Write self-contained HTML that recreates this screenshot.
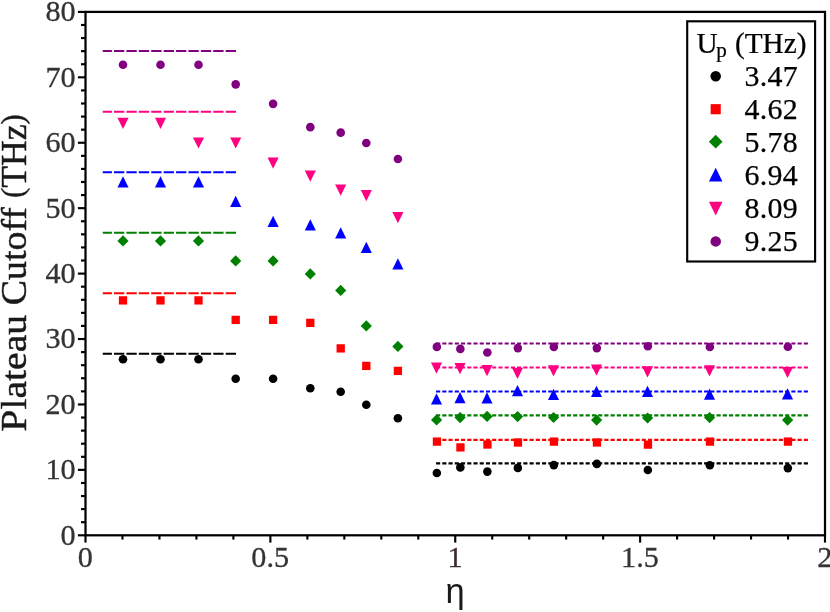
<!DOCTYPE html>
<html><head><meta charset="utf-8"><title>Plateau Cutoff</title>
<style>
html,body{margin:0;padding:0;background:#fff;}
body{width:830px;height:612px;overflow:hidden;font-family:"Liberation Serif",serif;}
svg{display:block;will-change:transform;}
text{font-family:"Liberation Serif",serif;}
.tl{font-size:30.2px;fill:#333333;stroke:#333333;stroke-width:0.3px;}
.lg{font-size:29.9px;fill:#000;stroke:#000;stroke-width:0.25px;}
</style></head><body>
<svg width="830" height="612" viewBox="0 0 830 612">
<rect x="0" y="0" width="830" height="612" fill="#ffffff"/>

<line x1="102.75" x2="236.5" y1="353.80" y2="353.80" stroke="#000000" stroke-width="2" stroke-dasharray="10.3 2.11" stroke-dashoffset="1.15"/>
<line x1="436.06" x2="807.95" y1="463.30" y2="463.30" stroke="#000000" stroke-width="2.15" stroke-dasharray="4.13 2.103"/>
<line x1="102.75" x2="236.5" y1="51.10" y2="51.10" stroke="#800080" stroke-width="2" stroke-dasharray="10.3 2.11" stroke-dashoffset="1.15"/>
<line x1="436.06" x2="807.95" y1="343.50" y2="343.50" stroke="#800080" stroke-width="2.15" stroke-dasharray="4.13 2.103"/>
<line x1="102.75" x2="236.5" y1="293.30" y2="293.30" stroke="#ff0000" stroke-width="2" stroke-dasharray="10.3 2.11" stroke-dashoffset="1.15"/>
<line x1="436.06" x2="807.95" y1="439.80" y2="439.80" stroke="#ff0000" stroke-width="2.15" stroke-dasharray="4.13 2.103"/>
<line x1="102.75" x2="236.5" y1="232.80" y2="232.80" stroke="#008000" stroke-width="2" stroke-dasharray="10.3 2.11" stroke-dashoffset="1.15"/>
<line x1="436.06" x2="807.95" y1="415.30" y2="415.30" stroke="#008000" stroke-width="2.15" stroke-dasharray="4.13 2.103"/>
<line x1="102.75" x2="236.5" y1="172.30" y2="172.30" stroke="#0000ff" stroke-width="2" stroke-dasharray="10.3 2.11" stroke-dashoffset="1.15"/>
<line x1="436.06" x2="807.95" y1="391.50" y2="391.50" stroke="#0000ff" stroke-width="2.15" stroke-dasharray="4.13 2.103"/>
<line x1="102.75" x2="236.5" y1="111.80" y2="111.80" stroke="#ff0080" stroke-width="2" stroke-dasharray="10.3 2.11" stroke-dashoffset="1.15"/>
<line x1="436.06" x2="807.95" y1="367.50" y2="367.50" stroke="#ff0080" stroke-width="2.15" stroke-dasharray="4.13 2.103"/>
<circle cx="123.00" cy="359.30" r="4.30" fill="#000000"/>
<circle cx="160.50" cy="359.30" r="4.30" fill="#000000"/>
<circle cx="198.50" cy="359.30" r="4.30" fill="#000000"/>
<circle cx="235.70" cy="378.80" r="4.30" fill="#000000"/>
<circle cx="273.10" cy="378.80" r="4.30" fill="#000000"/>
<circle cx="310.30" cy="388.30" r="4.30" fill="#000000"/>
<circle cx="340.70" cy="391.80" r="4.30" fill="#000000"/>
<circle cx="366.30" cy="404.80" r="4.30" fill="#000000"/>
<circle cx="397.90" cy="418.30" r="4.30" fill="#000000"/>
<circle cx="436.85" cy="473.00" r="4.30" fill="#000000"/>
<circle cx="460.35" cy="467.40" r="4.30" fill="#000000"/>
<circle cx="487.35" cy="471.60" r="4.30" fill="#000000"/>
<circle cx="517.85" cy="467.90" r="4.30" fill="#000000"/>
<circle cx="553.85" cy="465.10" r="4.30" fill="#000000"/>
<circle cx="596.85" cy="463.90" r="4.30" fill="#000000"/>
<circle cx="647.85" cy="470.00" r="4.30" fill="#000000"/>
<circle cx="709.85" cy="465.25" r="4.30" fill="#000000"/>
<circle cx="787.85" cy="468.10" r="4.30" fill="#000000"/>
<rect x="118.85" y="296.25" width="8.30" height="8.30" fill="#ff0000"/>
<rect x="156.35" y="296.25" width="8.30" height="8.30" fill="#ff0000"/>
<rect x="194.35" y="296.25" width="8.30" height="8.30" fill="#ff0000"/>
<rect x="231.55" y="315.75" width="8.30" height="8.30" fill="#ff0000"/>
<rect x="268.95" y="315.75" width="8.30" height="8.30" fill="#ff0000"/>
<rect x="306.15" y="318.75" width="8.30" height="8.30" fill="#ff0000"/>
<rect x="336.55" y="344.25" width="8.30" height="8.30" fill="#ff0000"/>
<rect x="362.15" y="361.75" width="8.30" height="8.30" fill="#ff0000"/>
<rect x="393.75" y="366.75" width="8.30" height="8.30" fill="#ff0000"/>
<rect x="432.80" y="437.45" width="8.30" height="8.30" fill="#ff0000"/>
<rect x="456.30" y="443.25" width="8.30" height="8.30" fill="#ff0000"/>
<rect x="483.30" y="440.35" width="8.30" height="8.30" fill="#ff0000"/>
<rect x="513.80" y="438.35" width="8.30" height="8.30" fill="#ff0000"/>
<rect x="549.80" y="437.45" width="8.30" height="8.30" fill="#ff0000"/>
<rect x="592.80" y="438.30" width="8.30" height="8.30" fill="#ff0000"/>
<rect x="643.80" y="440.45" width="8.30" height="8.30" fill="#ff0000"/>
<rect x="705.80" y="437.45" width="8.30" height="8.30" fill="#ff0000"/>
<rect x="783.80" y="437.45" width="8.30" height="8.30" fill="#ff0000"/>
<polygon points="117.40,240.90 123.00,235.30 128.60,240.90 123.00,246.50" fill="#008000"/>
<polygon points="154.90,240.90 160.50,235.30 166.10,240.90 160.50,246.50" fill="#008000"/>
<polygon points="192.90,240.90 198.50,235.30 204.10,240.90 198.50,246.50" fill="#008000"/>
<polygon points="230.10,260.90 235.70,255.30 241.30,260.90 235.70,266.50" fill="#008000"/>
<polygon points="267.50,260.90 273.10,255.30 278.70,260.90 273.10,266.50" fill="#008000"/>
<polygon points="304.70,273.90 310.30,268.30 315.90,273.90 310.30,279.50" fill="#008000"/>
<polygon points="335.10,290.40 340.70,284.80 346.30,290.40 340.70,296.00" fill="#008000"/>
<polygon points="360.70,325.90 366.30,320.30 371.90,325.90 366.30,331.50" fill="#008000"/>
<polygon points="392.30,346.40 397.90,340.80 403.50,346.40 397.90,352.00" fill="#008000"/>
<polygon points="431.00,419.90 436.60,414.30 442.20,419.90 436.60,425.50" fill="#008000"/>
<polygon points="454.50,417.60 460.10,412.00 465.70,417.60 460.10,423.20" fill="#008000"/>
<polygon points="481.50,416.40 487.10,410.80 492.70,416.40 487.10,422.00" fill="#008000"/>
<polygon points="512.00,416.60 517.60,411.00 523.20,416.60 517.60,422.20" fill="#008000"/>
<polygon points="548.00,417.50 553.60,411.90 559.20,417.50 553.60,423.10" fill="#008000"/>
<polygon points="591.00,420.10 596.60,414.50 602.20,420.10 596.60,425.70" fill="#008000"/>
<polygon points="642.00,418.00 647.60,412.40 653.20,418.00 647.60,423.60" fill="#008000"/>
<polygon points="704.00,417.60 709.60,412.00 715.20,417.60 709.60,423.20" fill="#008000"/>
<polygon points="782.00,420.10 787.60,414.50 793.20,420.10 787.60,425.70" fill="#008000"/>
<polygon points="117.45,187.50 128.55,187.50 123.00,176.30" fill="#0000ff"/>
<polygon points="154.95,187.50 166.05,187.50 160.50,176.30" fill="#0000ff"/>
<polygon points="192.95,187.50 204.05,187.50 198.50,176.30" fill="#0000ff"/>
<polygon points="230.15,207.00 241.25,207.00 235.70,195.80" fill="#0000ff"/>
<polygon points="267.55,227.00 278.65,227.00 273.10,215.80" fill="#0000ff"/>
<polygon points="304.75,230.50 315.85,230.50 310.30,219.30" fill="#0000ff"/>
<polygon points="335.15,238.50 346.25,238.50 340.70,227.30" fill="#0000ff"/>
<polygon points="360.75,253.00 371.85,253.00 366.30,241.80" fill="#0000ff"/>
<polygon points="392.35,269.50 403.45,269.50 397.90,258.30" fill="#0000ff"/>
<polygon points="430.95,404.40 442.05,404.40 436.50,393.20" fill="#0000ff"/>
<polygon points="454.45,403.20 465.55,403.20 460.00,392.00" fill="#0000ff"/>
<polygon points="481.45,403.50 492.55,403.50 487.00,392.30" fill="#0000ff"/>
<polygon points="511.95,396.30 523.05,396.30 517.50,385.10" fill="#0000ff"/>
<polygon points="547.95,400.00 559.05,400.00 553.50,388.80" fill="#0000ff"/>
<polygon points="590.95,397.00 602.05,397.00 596.50,385.80" fill="#0000ff"/>
<polygon points="641.95,397.00 653.05,397.00 647.50,385.80" fill="#0000ff"/>
<polygon points="703.95,399.70 715.05,399.70 709.50,388.50" fill="#0000ff"/>
<polygon points="781.95,399.50 793.05,399.50 787.50,388.30" fill="#0000ff"/>
<polygon points="117.45,117.70 128.55,117.70 123.00,128.90" fill="#ff0080"/>
<polygon points="154.95,117.70 166.05,117.70 160.50,128.90" fill="#ff0080"/>
<polygon points="192.95,137.40 204.05,137.40 198.50,148.60" fill="#ff0080"/>
<polygon points="230.15,137.40 241.25,137.40 235.70,148.60" fill="#ff0080"/>
<polygon points="267.55,157.50 278.65,157.50 273.10,168.70" fill="#ff0080"/>
<polygon points="304.75,170.50 315.85,170.50 310.30,181.70" fill="#ff0080"/>
<polygon points="335.15,184.50 346.25,184.50 340.70,195.70" fill="#ff0080"/>
<polygon points="360.75,190.00 371.85,190.00 366.30,201.20" fill="#ff0080"/>
<polygon points="392.35,212.00 403.45,212.00 397.90,223.20" fill="#ff0080"/>
<polygon points="430.95,362.60 442.05,362.60 436.50,373.80" fill="#ff0080"/>
<polygon points="454.45,363.10 465.55,363.10 460.00,374.30" fill="#ff0080"/>
<polygon points="481.45,365.10 492.55,365.10 487.00,376.30" fill="#ff0080"/>
<polygon points="511.95,367.80 523.05,367.80 517.50,379.00" fill="#ff0080"/>
<polygon points="547.95,365.30 559.05,365.30 553.50,376.50" fill="#ff0080"/>
<polygon points="590.95,364.50 602.05,364.50 596.50,375.70" fill="#ff0080"/>
<polygon points="641.95,366.20 653.05,366.20 647.50,377.40" fill="#ff0080"/>
<polygon points="703.95,365.30 715.05,365.30 709.50,376.50" fill="#ff0080"/>
<polygon points="781.95,366.90 793.05,366.90 787.50,378.10" fill="#ff0080"/>
<circle cx="123.00" cy="64.75" r="4.30" fill="#800080"/>
<circle cx="160.50" cy="64.75" r="4.30" fill="#800080"/>
<circle cx="198.50" cy="64.75" r="4.30" fill="#800080"/>
<circle cx="235.70" cy="84.35" r="4.30" fill="#800080"/>
<circle cx="273.10" cy="103.85" r="4.30" fill="#800080"/>
<circle cx="310.30" cy="127.15" r="4.30" fill="#800080"/>
<circle cx="340.70" cy="132.65" r="4.30" fill="#800080"/>
<circle cx="366.30" cy="142.95" r="4.30" fill="#800080"/>
<circle cx="397.90" cy="158.95" r="4.30" fill="#800080"/>
<circle cx="436.85" cy="346.90" r="4.30" fill="#800080"/>
<circle cx="460.35" cy="348.90" r="4.30" fill="#800080"/>
<circle cx="487.35" cy="352.50" r="4.30" fill="#800080"/>
<circle cx="517.85" cy="348.10" r="4.30" fill="#800080"/>
<circle cx="553.85" cy="346.90" r="4.30" fill="#800080"/>
<circle cx="596.85" cy="348.10" r="4.30" fill="#800080"/>
<circle cx="647.85" cy="346.25" r="4.30" fill="#800080"/>
<circle cx="709.85" cy="347.00" r="4.30" fill="#800080"/>
<circle cx="787.85" cy="346.70" r="4.30" fill="#800080"/>
<rect x="85.5" y="11.9" width="739.5" height="523.4" fill="none" stroke="#000" stroke-width="2.25"/>
<line x1="77.90" x2="85.5" y1="535.30" y2="535.30" stroke="#000" stroke-width="2.15"/>
<line x1="81.00" x2="85.5" y1="522.21" y2="522.21" stroke="#000" stroke-width="2.15"/>
<line x1="81.00" x2="85.5" y1="509.13" y2="509.13" stroke="#000" stroke-width="2.15"/>
<line x1="81.00" x2="85.5" y1="496.04" y2="496.04" stroke="#000" stroke-width="2.15"/>
<line x1="81.00" x2="85.5" y1="482.96" y2="482.96" stroke="#000" stroke-width="2.15"/>
<line x1="77.90" x2="85.5" y1="469.87" y2="469.87" stroke="#000" stroke-width="2.15"/>
<line x1="81.00" x2="85.5" y1="456.79" y2="456.79" stroke="#000" stroke-width="2.15"/>
<line x1="81.00" x2="85.5" y1="443.70" y2="443.70" stroke="#000" stroke-width="2.15"/>
<line x1="81.00" x2="85.5" y1="430.62" y2="430.62" stroke="#000" stroke-width="2.15"/>
<line x1="81.00" x2="85.5" y1="417.53" y2="417.53" stroke="#000" stroke-width="2.15"/>
<line x1="77.90" x2="85.5" y1="404.45" y2="404.45" stroke="#000" stroke-width="2.15"/>
<line x1="81.00" x2="85.5" y1="391.36" y2="391.36" stroke="#000" stroke-width="2.15"/>
<line x1="81.00" x2="85.5" y1="378.28" y2="378.28" stroke="#000" stroke-width="2.15"/>
<line x1="81.00" x2="85.5" y1="365.19" y2="365.19" stroke="#000" stroke-width="2.15"/>
<line x1="81.00" x2="85.5" y1="352.11" y2="352.11" stroke="#000" stroke-width="2.15"/>
<line x1="77.90" x2="85.5" y1="339.02" y2="339.02" stroke="#000" stroke-width="2.15"/>
<line x1="81.00" x2="85.5" y1="325.94" y2="325.94" stroke="#000" stroke-width="2.15"/>
<line x1="81.00" x2="85.5" y1="312.85" y2="312.85" stroke="#000" stroke-width="2.15"/>
<line x1="81.00" x2="85.5" y1="299.77" y2="299.77" stroke="#000" stroke-width="2.15"/>
<line x1="81.00" x2="85.5" y1="286.68" y2="286.68" stroke="#000" stroke-width="2.15"/>
<line x1="77.90" x2="85.5" y1="273.60" y2="273.60" stroke="#000" stroke-width="2.15"/>
<line x1="81.00" x2="85.5" y1="260.51" y2="260.51" stroke="#000" stroke-width="2.15"/>
<line x1="81.00" x2="85.5" y1="247.43" y2="247.43" stroke="#000" stroke-width="2.15"/>
<line x1="81.00" x2="85.5" y1="234.34" y2="234.34" stroke="#000" stroke-width="2.15"/>
<line x1="81.00" x2="85.5" y1="221.26" y2="221.26" stroke="#000" stroke-width="2.15"/>
<line x1="77.90" x2="85.5" y1="208.17" y2="208.17" stroke="#000" stroke-width="2.15"/>
<line x1="81.00" x2="85.5" y1="195.09" y2="195.09" stroke="#000" stroke-width="2.15"/>
<line x1="81.00" x2="85.5" y1="182.00" y2="182.00" stroke="#000" stroke-width="2.15"/>
<line x1="81.00" x2="85.5" y1="168.92" y2="168.92" stroke="#000" stroke-width="2.15"/>
<line x1="81.00" x2="85.5" y1="155.83" y2="155.83" stroke="#000" stroke-width="2.15"/>
<line x1="77.90" x2="85.5" y1="142.75" y2="142.75" stroke="#000" stroke-width="2.15"/>
<line x1="81.00" x2="85.5" y1="129.66" y2="129.66" stroke="#000" stroke-width="2.15"/>
<line x1="81.00" x2="85.5" y1="116.58" y2="116.58" stroke="#000" stroke-width="2.15"/>
<line x1="81.00" x2="85.5" y1="103.49" y2="103.49" stroke="#000" stroke-width="2.15"/>
<line x1="81.00" x2="85.5" y1="90.41" y2="90.41" stroke="#000" stroke-width="2.15"/>
<line x1="77.90" x2="85.5" y1="77.32" y2="77.32" stroke="#000" stroke-width="2.15"/>
<line x1="81.00" x2="85.5" y1="64.24" y2="64.24" stroke="#000" stroke-width="2.15"/>
<line x1="81.00" x2="85.5" y1="51.15" y2="51.15" stroke="#000" stroke-width="2.15"/>
<line x1="81.00" x2="85.5" y1="38.07" y2="38.07" stroke="#000" stroke-width="2.15"/>
<line x1="81.00" x2="85.5" y1="24.99" y2="24.99" stroke="#000" stroke-width="2.15"/>
<line x1="77.90" x2="85.5" y1="11.90" y2="11.90" stroke="#000" stroke-width="2.15"/>
<text class="tl" transform="translate(75.60,544.70) scale(1,1)" text-anchor="end">0</text>
<text class="tl" transform="translate(75.60,479.27) scale(1,1)" text-anchor="end">10</text>
<text class="tl" transform="translate(75.60,413.85) scale(1,1)" text-anchor="end">20</text>
<text class="tl" transform="translate(75.60,348.42) scale(1,1)" text-anchor="end">30</text>
<text class="tl" transform="translate(75.60,283.00) scale(1,1)" text-anchor="end">40</text>
<text class="tl" transform="translate(75.60,217.57) scale(1,1)" text-anchor="end">50</text>
<text class="tl" transform="translate(75.60,152.15) scale(1,1)" text-anchor="end">60</text>
<text class="tl" transform="translate(75.60,86.72) scale(1,1)" text-anchor="end">70</text>
<text class="tl" transform="translate(75.60,21.30) scale(1,1)" text-anchor="end">80</text>
<line x1="85.50" x2="85.50" y1="535.3" y2="542.60" stroke="#000" stroke-width="2.15"/>
<line x1="122.47" x2="122.47" y1="535.3" y2="539.60" stroke="#000" stroke-width="2.15"/>
<line x1="159.45" x2="159.45" y1="535.3" y2="539.60" stroke="#000" stroke-width="2.15"/>
<line x1="196.43" x2="196.43" y1="535.3" y2="539.60" stroke="#000" stroke-width="2.15"/>
<line x1="233.40" x2="233.40" y1="535.3" y2="539.60" stroke="#000" stroke-width="2.15"/>
<line x1="270.38" x2="270.38" y1="535.3" y2="542.60" stroke="#000" stroke-width="2.15"/>
<line x1="307.35" x2="307.35" y1="535.3" y2="539.60" stroke="#000" stroke-width="2.15"/>
<line x1="344.33" x2="344.33" y1="535.3" y2="539.60" stroke="#000" stroke-width="2.15"/>
<line x1="381.30" x2="381.30" y1="535.3" y2="539.60" stroke="#000" stroke-width="2.15"/>
<line x1="418.28" x2="418.28" y1="535.3" y2="539.60" stroke="#000" stroke-width="2.15"/>
<line x1="455.25" x2="455.25" y1="535.3" y2="542.60" stroke="#000" stroke-width="2.15"/>
<line x1="492.23" x2="492.23" y1="535.3" y2="539.60" stroke="#000" stroke-width="2.15"/>
<line x1="529.20" x2="529.20" y1="535.3" y2="539.60" stroke="#000" stroke-width="2.15"/>
<line x1="566.17" x2="566.17" y1="535.3" y2="539.60" stroke="#000" stroke-width="2.15"/>
<line x1="603.15" x2="603.15" y1="535.3" y2="539.60" stroke="#000" stroke-width="2.15"/>
<line x1="640.12" x2="640.12" y1="535.3" y2="542.60" stroke="#000" stroke-width="2.15"/>
<line x1="677.10" x2="677.10" y1="535.3" y2="539.60" stroke="#000" stroke-width="2.15"/>
<line x1="714.08" x2="714.08" y1="535.3" y2="539.60" stroke="#000" stroke-width="2.15"/>
<line x1="751.05" x2="751.05" y1="535.3" y2="539.60" stroke="#000" stroke-width="2.15"/>
<line x1="788.03" x2="788.03" y1="535.3" y2="539.60" stroke="#000" stroke-width="2.15"/>
<line x1="825.00" x2="825.00" y1="535.3" y2="542.60" stroke="#000" stroke-width="2.15"/>
<text class="tl" transform="translate(85.30,567) scale(1,1)" text-anchor="middle">0</text>
<text class="tl" transform="translate(270.18,567) scale(1,1)" text-anchor="middle">0.5</text>
<text class="tl" transform="translate(455.05,567) scale(1,1)" text-anchor="middle" style="fill:#3b2c2c;stroke:#3b2c2c">1</text>
<text class="tl" transform="translate(639.92,567) scale(1,1)" text-anchor="middle">1.5</text>
<text class="tl" transform="translate(824.80,567) scale(1,1)" text-anchor="middle">2</text>
<text transform="translate(26,431.7) rotate(-90) scale(1.0885,1)" font-size="36.5" fill="#1a1a1a" stroke="#1a1a1a" stroke-width="0.45">Plateau</text>
<text transform="translate(26,305.2) rotate(-90) scale(1.037,1)" font-size="36.5" fill="#1a1a1a" stroke="#1a1a1a" stroke-width="0.45">Cutoff</text>
<text transform="translate(26,198.0) rotate(-90) scale(0.977,1)" font-size="36.5" fill="#1a1a1a" stroke="#1a1a1a" stroke-width="0.45"><tspan font-size="31.5" dy="-2.7">(</tspan><tspan dy="2.7">THz</tspan><tspan font-size="31.5" dy="-2.7">)</tspan></text>
<text x="455" y="602.5" text-anchor="middle" font-size="34.5" fill="#1a1a1a" style="font-family:'Liberation Sans',sans-serif">η</text>
<rect x="687.2" y="21.3" width="127.9" height="240.2" fill="#fff" stroke="#000" stroke-width="2.15"/>
<text class="lg" transform="translate(696.6,53) scale(0.98,1)">U<tspan font-size="21.5" dx="-1.5" dy="3.8">p</tspan><tspan dx="0.8" dy="-3.8"> (THz)</tspan></text>
<circle cx="715.70" cy="76.20" r="5.25" fill="#000000"/>
<text class="lg" x="744.6" y="85.7" letter-spacing="0.3">3.47</text>
<rect x="710.64" y="104.14" width="10.13" height="10.13" fill="#ff0000"/>
<text class="lg" x="744.6" y="118.8" letter-spacing="0.3">4.62</text>
<polygon points="708.87,141.70 715.70,134.87 722.53,141.70 715.70,148.53" fill="#008000"/>
<text class="lg" x="744.6" y="151.9" letter-spacing="0.3">5.78</text>
<polygon points="708.93,181.51 722.47,181.51 715.70,167.85" fill="#0000ff"/>
<text class="lg" x="744.6" y="185.0" letter-spacing="0.3">6.94</text>
<polygon points="708.93,201.76 722.47,201.76 715.70,215.42" fill="#ff0080"/>
<text class="lg" x="744.6" y="218.0" letter-spacing="0.3">8.09</text>
<circle cx="715.70" cy="241.40" r="5.25" fill="#800080"/>
<text class="lg" x="744.6" y="251.1" letter-spacing="0.3">9.25</text>
</svg></body></html>
